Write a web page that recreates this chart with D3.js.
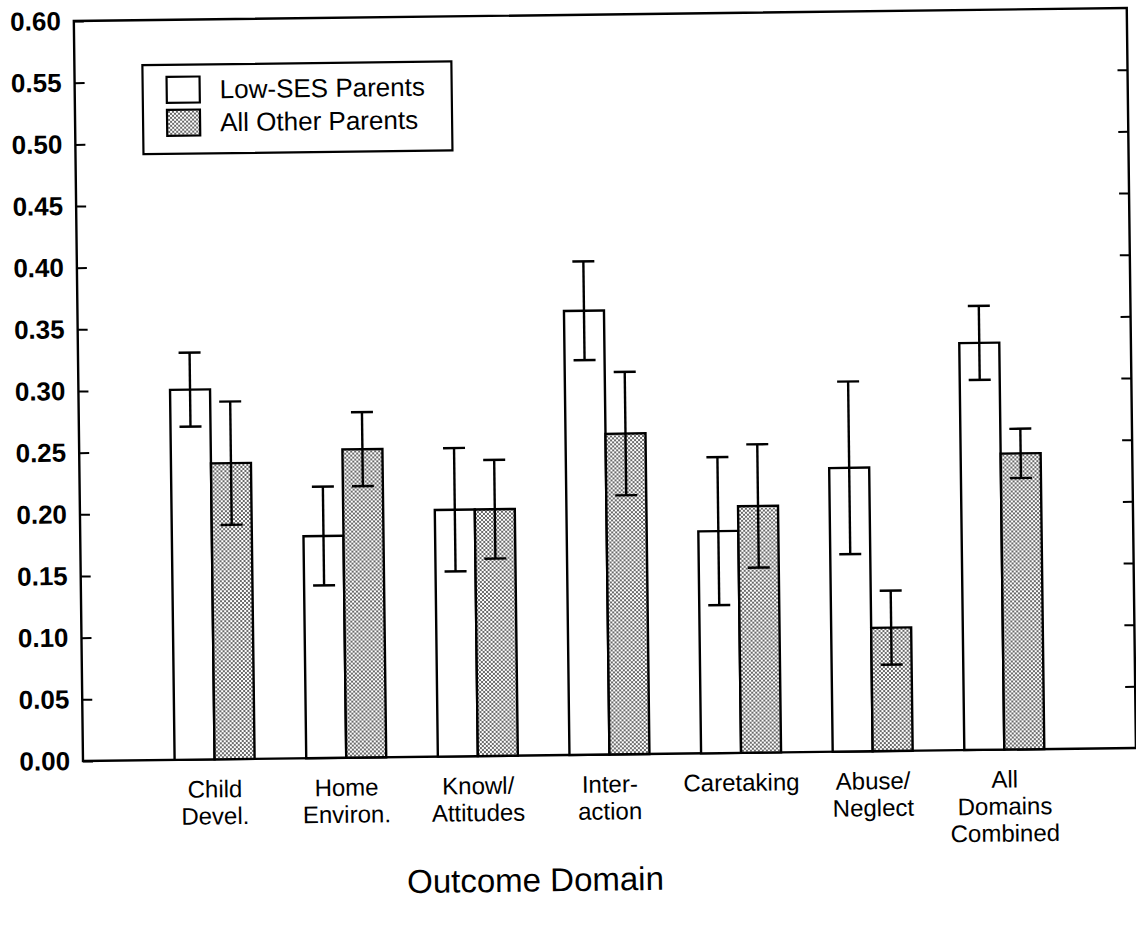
<!DOCTYPE html>
<html>
<head>
<meta charset="utf-8">
<script src="https://cdn.jsdelivr.net/npm/d3@7"></script>
<style>
  html, body { margin: 0; padding: 0; background: #fff; }
  svg { display: block; font-family: "Liberation Sans", Arial, Helvetica, sans-serif; }
</style>
</head>
<body>
<svg id="chart" width="1136" height="929"></svg>
<script>
// Outcome domains (each entry is the label split into its lines)
const categories = [
  ["Child", "Devel."],
  ["Home", "Environ."],
  ["Knowl/", "Attitudes"],
  ["Inter-", "action"],
  ["Caretaking"],
  ["Abuse/", "Neglect"],
  ["All", "Domains", "Combined"]
];
const seriesNames = ["Low-SES Parents", "All Other Parents"];
const lowSES      = [0.30, 0.18, 0.20, 0.36, 0.18, 0.23, 0.33];
const lowSESErr   = [0.03, 0.04, 0.05, 0.04, 0.06, 0.07, 0.03];
const otherPar    = [0.24, 0.25, 0.20, 0.26, 0.20, 0.10, 0.24];
const otherParErr = [0.05, 0.03, 0.04, 0.05, 0.05, 0.03, 0.02];
const yTicks = [0.00, 0.05, 0.10, 0.15, 0.20, 0.25, 0.30, 0.35, 0.40, 0.45, 0.50, 0.55, 0.60];
const xTitle = "Outcome Domain";

const svg = d3.select("#chart");

// dotted fill for the second series
const defs = svg.append("defs");
const pat = defs.append("pattern")
  .attr("id", "dots").attr("patternUnits", "userSpaceOnUse")
  .attr("width", 4).attr("height", 4);
pat.append("rect").attr("width", 4).attr("height", 4).attr("fill", "#ffffff");
pat.append("rect").attr("x", 0).attr("y", 0).attr("width", 2).attr("height", 2).attr("fill", "#6a6a6a");
pat.append("rect").attr("x", 2).attr("y", 2).attr("width", 2).attr("height", 2).attr("fill", "#6a6a6a");

const plotL = 83, plotR = 1136, plotT = 21, plotB = 761;

// whole plot sits slightly tilted on the page
const g = svg.append("g").attr("transform", `rotate(-0.71, ${plotL}, ${plotB})`);

const x = d3.scalePoint().domain(d3.range(categories.length)).range([plotL, plotR]).padding(1);
const sub = d3.scaleBand().domain([0, 1]).range([-40, 40]);
const y = d3.scaleLinear().domain([0, 0.60]).range([plotB, plotT]);

// frame
g.append("rect")
  .attr("x", plotL).attr("y", plotT).attr("width", plotR - plotL).attr("height", plotB - plotT)
  .attr("fill", "none").attr("stroke", "#000").attr("stroke-width", 2.4);

// left axis: inward ticks, labels outside
const yAxis = d3.axisLeft(y).tickValues(yTicks).tickFormat(d3.format(".2f"))
  .tickSizeInner(-10).tickSizeOuter(0).tickPadding(13);
const ya = g.append("g").attr("transform", `translate(${plotL},0)`).call(yAxis);
ya.select(".domain").remove();
ya.selectAll(".tick line").attr("stroke", "#000").attr("stroke-width", 2);
ya.selectAll(".tick text")
  .attr("fill", "#000").attr("font-size", 26).attr("font-weight", "bold")
  .attr("font-family", "'Liberation Sans', Arial, sans-serif");

// right axis: inward ticks only
const yAxisR = d3.axisRight(y).tickValues(yTicks.slice(1, -1)).tickFormat("")
  .tickSizeInner(-10).tickSizeOuter(0);
const yr = g.append("g").attr("transform", `translate(${plotR},0)`).call(yAxisR);
yr.select(".domain").remove();
yr.selectAll(".tick line").attr("stroke", "#000").attr("stroke-width", 2);

// bars
const series = [
  { vals: lowSES, errs: lowSESErr, fill: "#ffffff" },
  { vals: otherPar, errs: otherParErr, fill: "url(#dots)" }
];
series.forEach((s, si) => {
  const sg = g.append("g");
  sg.selectAll("rect.bar").data(s.vals).join("rect")
    .attr("class", "bar")
    .attr("x", (d, i) => x(i) + sub(si))
    .attr("y", d => y(d))
    .attr("width", sub.bandwidth())
    .attr("height", d => y(0) - y(d))
    .attr("fill", s.fill)
    .attr("stroke", "#000").attr("stroke-width", 2.4);
});

// error bars
const cap = 11;
series.forEach((s, si) => {
  const eg = g.append("g").attr("stroke", "#000").attr("stroke-width", 2.4).attr("fill", "none");
  s.vals.forEach((v, i) => {
    const cx = x(i) + sub(si) + sub.bandwidth() / 2;
    const hi = y(v + s.errs[i]), lo = y(v - s.errs[i]);
    eg.append("line").attr("x1", cx).attr("x2", cx).attr("y1", hi).attr("y2", lo);
    eg.append("line").attr("x1", cx - cap).attr("x2", cx + cap).attr("y1", hi).attr("y2", hi);
    eg.append("line").attr("x1", cx - cap).attr("x2", cx + cap).attr("y1", lo).attr("y2", lo);
  });
});

// category labels
const cl = g.append("g").attr("font-size", 24).attr("fill", "#000").attr("text-anchor", "middle");
categories.forEach((lines, i) => {
  const t = cl.append("text").attr("x", x(i)).attr("y", plotB + 38);
  lines.forEach((ln, k) => {
    t.append("tspan").attr("x", x(i)).attr("dy", k === 0 ? 0 : 27).text(ln);
  });
});

// axis title
g.append("text")
  .attr("x", 534).attr("y", 897)
  .attr("text-anchor", "middle").attr("font-size", 33).attr("fill", "#000")
  .text(xTitle);

// legend
const lg = g.append("g");
lg.append("rect").attr("x", 151).attr("y", 66).attr("width", 309).attr("height", 89)
  .attr("fill", "#fff").attr("stroke", "#000").attr("stroke-width", 2.2);
[{ fill: "#ffffff", y: 78 }, { fill: "url(#dots)", y: 111 }].forEach((it, k) => {
  lg.append("rect").attr("x", 175).attr("y", it.y).attr("width", 33).attr("height", 26)
    .attr("fill", it.fill).attr("stroke", "#000").attr("stroke-width", 2.2);
  lg.append("text").attr("x", 228).attr("y", it.y + 22)
    .attr("font-size", 26).attr("fill", "#000").text(seriesNames[k]);
});
</script>
</body>
</html>
